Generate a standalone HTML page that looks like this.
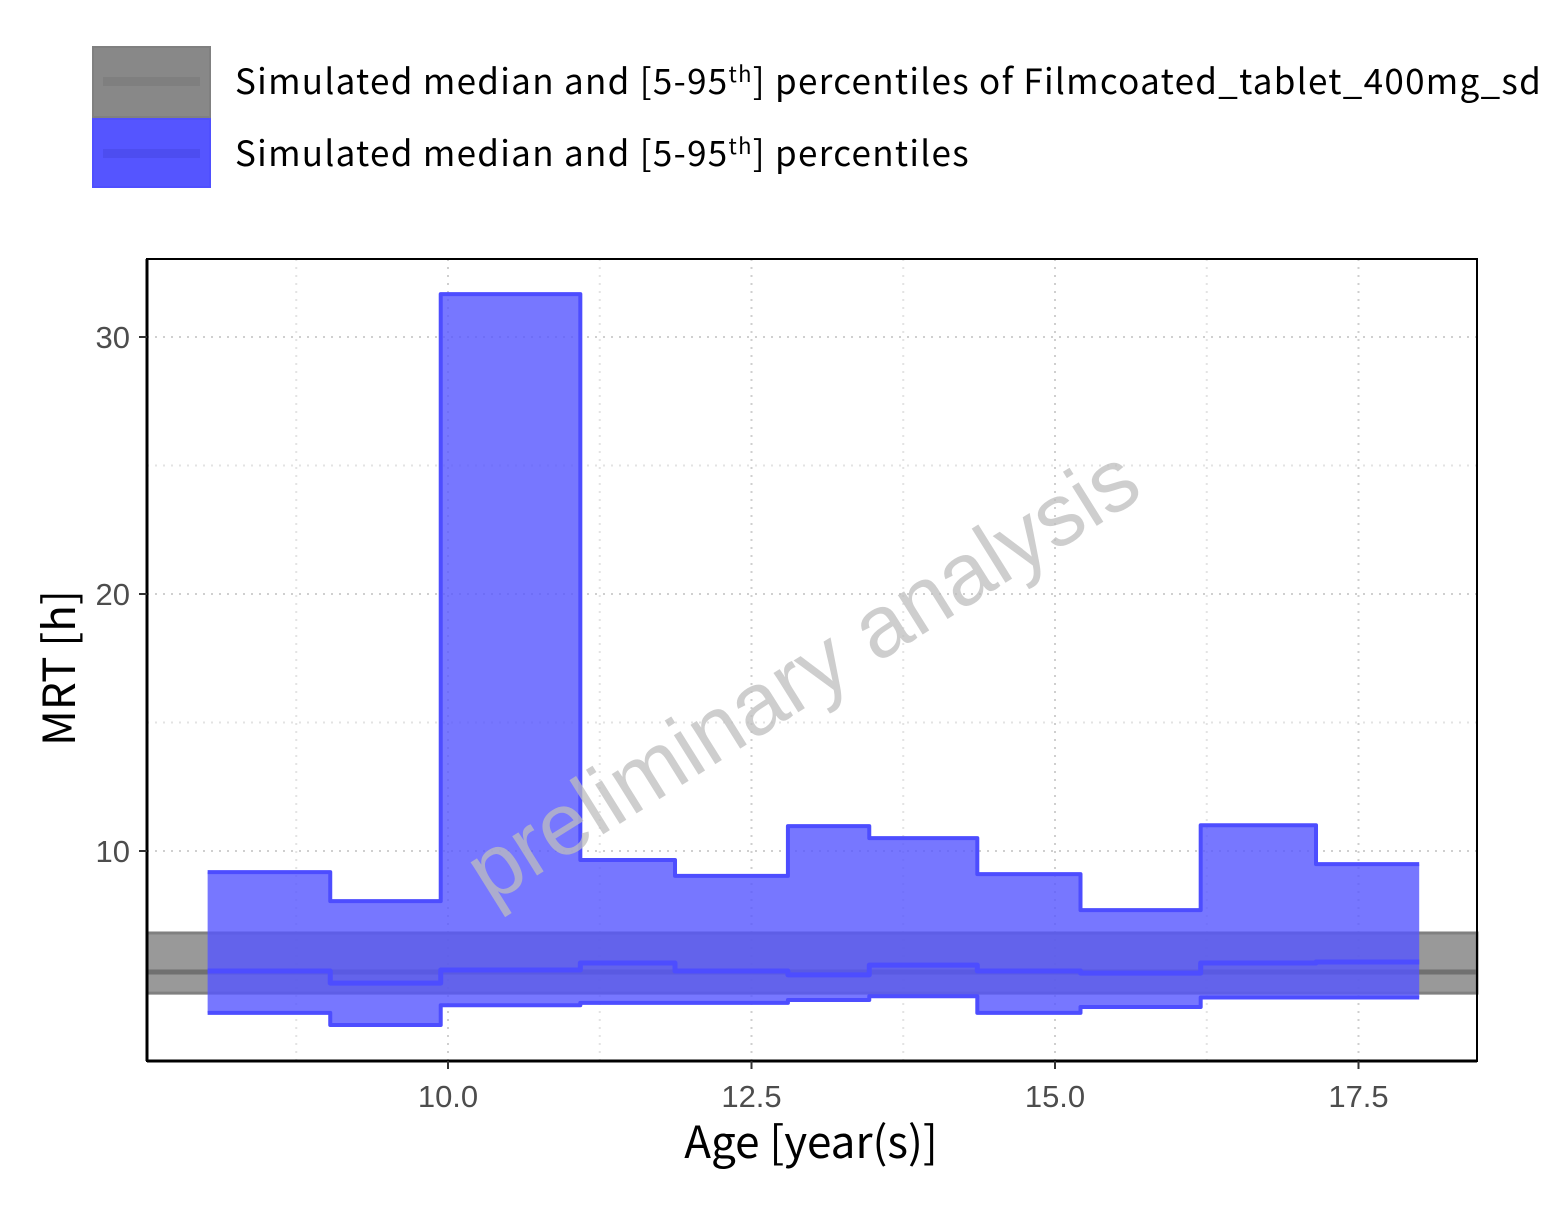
<!DOCTYPE html>
<html><head><meta charset="utf-8"><style>
html,body{margin:0;padding:0;background:#fff;}
svg{display:block;}
.leg{font-family:"Noto Sans CJK JP","DejaVu Sans",sans-serif;font-size:35px;letter-spacing:1.3px;fill:#000;}
.tick{font-family:"Liberation Sans",sans-serif;font-size:31px;fill:#4d4d4d;}
.title{font-family:"Noto Sans CJK JP","DejaVu Sans",sans-serif;font-size:44px;fill:#000;}
</style></head><body>
<svg id="chart" width="1562" height="1212" viewBox="0 0 1562 1212">
<g>
 <g>
  <rect x="93" y="47" width="117" height="70" fill="#888" stroke="#808080" stroke-width="2"/>
  <rect x="103" y="77" width="97" height="9" fill="#7f7f7f"/>
  <text class="leg" x="235" y="94">Simulated median and [5-95<tspan font-size="22" dy="-12">th</tspan><tspan dy="12">] percentiles of Filmcoated_tablet_400mg_sd</tspan></text>
 </g>
 <g>
  <rect x="93" y="119" width="117" height="68" fill="#5555ff" stroke="#4f4fff" stroke-width="2"/>
  <rect x="103" y="149" width="97" height="9" fill="#4d4df0"/>
  <text class="leg" x="235" y="166">Simulated median and [5-95<tspan font-size="22" dy="-12">th</tspan><tspan dy="12">] percentiles</tspan></text>
 </g>
</g>
<g id="grid"></g>
<g id="marks"></g>
<text x="818" y="700" transform="rotate(-32 818 700)" text-anchor="middle" font-family="Liberation Sans, sans-serif" font-size="88" fill="#bdbdbd" fill-opacity="0.75">preliminary analysis</text>
<g id="axes"></g>
<text class="title" x="811" y="1158" text-anchor="middle">Age [year(s)]</text>
<text class="title" x="75" y="668" text-anchor="middle" transform="rotate(-90 75 668)">MRT [h]</text>
</svg>
<script>
const binEdges=[8.02,9.03,9.94,11.09,11.87,12.80,13.47,14.36,15.21,16.20,17.15,18.00];
const upper=[9.18,8.05,31.67,9.65,9.03,10.97,10.5,9.1,7.7,11.0,9.49];
const median=[5.33,4.86,5.37,5.64,5.33,5.18,5.56,5.33,5.25,5.64,5.68];
const lower=[3.70,3.23,4.0,4.09,4.09,4.2,4.35,3.7,3.93,4.3,4.3];
const refBand=[4.47,5.29,6.81];
const xTicks=[10,12.5,15,17.5];
const xTickLabels=["10.0","12.5","15.0","17.5"];
const yTicks=[10,20,30];
const yTickLabels=["10","20","30"];
const xMinor=[8.75,11.25,13.75,16.25];
const yMinor=[15,25];
const X0=147,X1=1477,Y0=259,Y1=1061;
const xs=v=>448+(v-10)*121.4;
const ys=v=>851-(v-10)*25.7;
const NS='http://www.w3.org/2000/svg';
function mk(t,a,p){const e=document.createElementNS(NS,t);for(const k in a)e.setAttribute(k,a[k]);p.appendChild(e);return e;}
const grid=document.getElementById('grid'),marks=document.getElementById('marks'),axes=document.getElementById('axes');
xTicks.concat(xMinor).forEach(v=>{const l=mk('line',{x1:xs(v),x2:xs(v),y1:Y0,y2:Y1,stroke:xMinor.includes(v)?'#e3e3e3':'#cfcfcf','stroke-width':2,'stroke-dasharray':'2 6'},grid);
});
yTicks.concat(yMinor).forEach(v=>{const l=mk('line',{x1:X0,x2:X1,y1:ys(v),y2:ys(v),stroke:yMinor.includes(v)?'#e3e3e3':'#cfcfcf','stroke-width':2,'stroke-dasharray':'2 6'},grid);
});
let rb=mk('rect',{x:X0,y:ys(refBand[2]),width:X1-X0,height:ys(refBand[0])-ys(refBand[2]),fill:'#808080','fill-opacity':0.8,stroke:'#808080','stroke-width':3},marks);

let rm=mk('line',{x1:X0,x2:X1,y1:ys(refBand[1]),y2:ys(refBand[1]),stroke:'#707070','stroke-width':5},marks);

function stepPts(vals){let p=[];vals.forEach((v,i)=>{p.push([xs(binEdges[i]),ys(v)]);p.push([xs(binEdges[i+1]),ys(v)]);});return p;}
const up=stepPts(upper),lo=stepPts(lower).reverse();
let area=mk('polygon',{points:up.concat(lo).map(p=>p.join(',')).join(' '),fill:'#5555ff','fill-opacity':0.8,stroke:'none'},marks);

[[upper,'upper-percentile-line'],[lower,'lower-percentile-line'],[median,'median-line']].forEach(([a,n])=>{
 const l=mk('polyline',{points:stepPts(a).map(p=>p.join(',')).join(' '),fill:'none',stroke:'#4d4dff','stroke-width':n==='median-line'?5:4,'stroke-linejoin':'round'},marks);
 });
let fr=mk('rect',{x:X0,y:Y0,width:X1-X0,height:Y1-Y0,fill:'none',stroke:'#000','stroke-width':2},axes);

mk('line',{x1:X0,x2:X1,y1:Y1,y2:Y1,stroke:'#000','stroke-width':3},axes);
mk('line',{x1:X0,x2:X0,y1:Y0,y2:Y1,stroke:'#000','stroke-width':3},axes);
xTicks.forEach((v,i)=>{mk('line',{x1:xs(v),x2:xs(v),y1:Y1,y2:Y1+8,stroke:'#333','stroke-width':2},axes);
 const t=mk('text',{x:xs(v),y:Y1+46,'text-anchor':'middle',class:'tick'},axes);t.textContent=xTickLabels[i];
 });
yTicks.forEach((v,i)=>{mk('line',{x1:X0-8,x2:X0,y1:ys(v),y2:ys(v),stroke:'#333','stroke-width':2},axes);
 const t=mk('text',{x:X0-17,y:ys(v)+11,'text-anchor':'end',class:'tick'},axes);t.textContent=yTickLabels[i];
 });
</script>
</body></html>
